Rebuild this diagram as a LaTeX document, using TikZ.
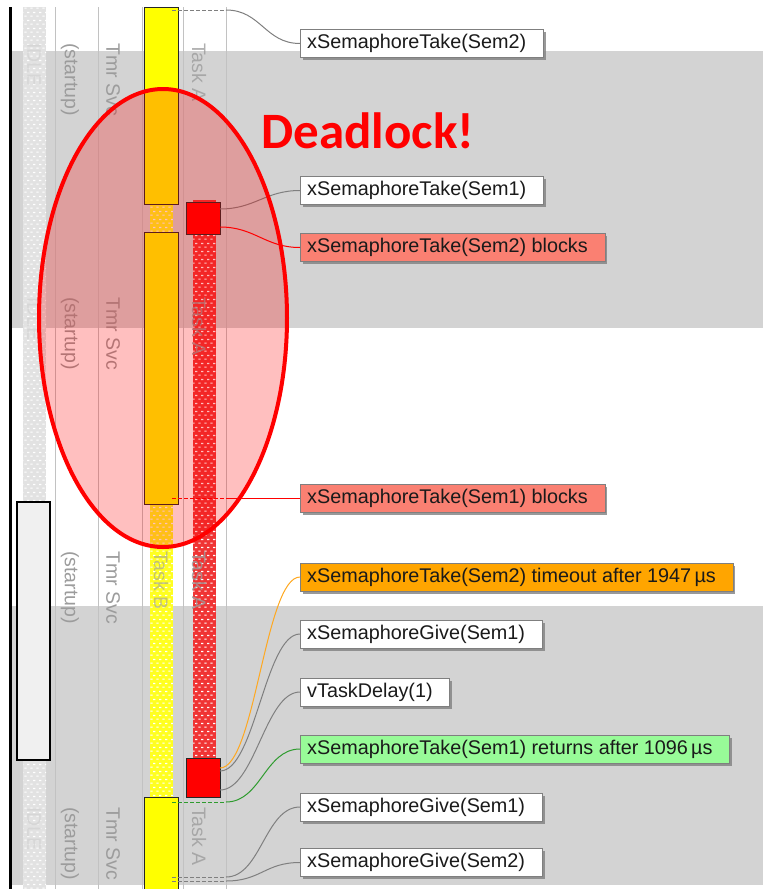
\documentclass[tikz,border=0pt]{standalone}
\usepackage{fontspec}
\setmainfont{Liberation Sans}
\newfontfamily\headfont{Carlito}
\usepackage{tikz}
\usetikzlibrary{patterns.meta,shadows}
\usepackage{xcolor}
\definecolor{TraceGray}{HTML}{D3D3D3}
\definecolor{TraceSep}{HTML}{C2C2C2}
\definecolor{TraceLabel}{HTML}{9C9C9C}
\definecolor{TraceIdle}{HTML}{E2E2E2}
\definecolor{TraceIdleLabel}{HTML}{D6D6D6}
\definecolor{TaskBYellow}{HTML}{FFFF00}
\definecolor{TaskBReady}{HTML}{FFFF20}
\definecolor{TaskARed}{HTML}{FF0000}
\definecolor{TaskAReady}{HTML}{F03434}
\definecolor{EvtSalmon}{HTML}{FA8072}
\definecolor{EvtOrange}{HTML}{FFA500}
\definecolor{EvtGreen}{HTML}{98FB98}
\definecolor{LinkGray}{HTML}{7F7F7F}
\definecolor{LinkOrange}{HTML}{FFA820}
\definecolor{LinkGreen}{HTML}{2E9B2E}
\definecolor{TextDark}{HTML}{1A1A1A}

\tikzdeclarepattern{
  name=tracedots,
  type=uncolored,
  bottom left={(0pt,0pt)},
  top right={(6pt,8pt)},
  tile size={(6pt,8pt)},
  code={
    \fill (0.5pt,1.5pt) rectangle (3pt,2.8pt);
    \fill (3.5pt,5.5pt) rectangle (6pt,6.8pt);
  }
}

\tikzset{
  evtbox/.style={draw=LinkGray, fill=white, anchor=west, inner xsep=7pt, inner ysep=0pt,
    minimum height=28pt, text=TextDark, font=\fontsize{19.8}{22}\selectfont,
    execute at end node={\hspace{10pt}},
    drop shadow={shadow xshift=2.5pt, shadow yshift=-2.5pt, fill=gray, opacity=0.8}},
  collabel/.style={rotate=-90, anchor=west, inner sep=0pt, text=TraceLabel,
    font=\fontsize{19.5}{22}\selectfont},
  conn/.style={draw=LinkGray, line width=1pt},
  dotdash/.style={dash pattern=on 4pt off 2pt},
  link/.style={to path={.. controls +(35,0) and +(-35,0) .. (\tikztotarget)}},
  runbar/.style={draw=black!85, line width=1pt},
  ready/.style={pattern=tracedots, pattern color=white}
}

\begin{document}
\begin{tikzpicture}[x=1pt,y=-1pt]
  \useasboundingbox (0,0) rectangle (763,889);
  % background bands
  \fill[TraceGray] (12,51) rectangle (763,328);
  \fill[TraceGray] (12,606) rectangle (763,885);
  \foreach \x in {55,98,142,183,226}
    \draw[TraceSep, line width=1pt] (\x,7) -- (\x,889);

  % ready states
  \fill[TraceIdle] (23,7) rectangle (46,889);
  \fill[ready] (23,7) rectangle (46,889);
  \fill[TaskBReady] (150,204) rectangle (173,797);
  \fill[ready] (150,204) rectangle (173,797);
  \fill[TaskAReady] (193,200) rectangle (216,758);
  \fill[ready] (193,200) rectangle (216,758);

  % column labels
  \foreach \y in {43,297,551,807} {
    \node[collabel, text=TraceIdleLabel] (idle\y) at (34,\y) {IDLE};
    \node[collabel] (startup\y) at (70,\y) {(startup)};
    \node[collabel] (tmr\y) at (113,\y) {Tmr Svc};
    \node[collabel, opacity=0.6] (taskb\y) at (161,\y) {Task B};
    \node[collabel, opacity=0.8] (taska\y) at (199,\y) {Task A};
  }

  % running states
  \filldraw[fill=gray!12, draw=black, line width=1.5pt] (17,502) rectangle (50,760);
  \draw[line width=3pt] (10.5,7) -- (10.5,889);
  \filldraw[runbar, fill=TaskBYellow] (144,7) rectangle (178,204);
  \filldraw[runbar, fill=TaskBYellow] (144,232) rectangle (178,504);
  \filldraw[runbar, fill=TaskBYellow] (144,797) rectangle (178,893);
  \filldraw[runbar, fill=TaskARed] (186,202) rectangle (220,234);
  \filldraw[runbar, fill=TaskARed] (186,758) rectangle (220,797);

  % event points
  \coordinate (tk2s) at (172,10);   \coordinate (tk2m) at (226,10);
  \coordinate (tk1s) at (220,209);
  \coordinate (tk2bs) at (220,227);
  \coordinate (tk1bs) at (172,498); \coordinate (tk1bm) at (226,498);
  \coordinate (tmos) at (220,768);
  \coordinate (gv1s) at (220,771);
  \coordinate (dls) at (220,790);
  \coordinate (rets) at (172,802);  \coordinate (retm) at (226,802);
  \coordinate (gv1bs) at (172,877); \coordinate (gv1bm) at (226,877);
  \coordinate (gv2s) at (172,881);  \coordinate (gv2m) at (226,881);

  % event labels
  \node[evtbox] (take2) at (300,43.5) {xSemaphoreTake(Sem2)};
  \node[evtbox] (take1) at (300,190.5) {xSemaphoreTake(Sem1)};
  \node[evtbox, fill=EvtSalmon] (take2blk) at (300,247.5) {xSemaphoreTake(Sem2) blocks};
  \node[evtbox, fill=EvtSalmon] (take1blk) at (300,498) {xSemaphoreTake(Sem1) blocks};
  \node[evtbox, fill=EvtOrange] (take2tmo) at (300,577) {xSemaphoreTake(Sem2) timeout after 1947\,µs};
  \node[evtbox] (give1) at (300,634) {xSemaphoreGive(Sem1)};
  \node[evtbox] (delay) at (300,692) {vTaskDelay(1)};
  \node[evtbox, fill=EvtGreen] (take1ret) at (300,749) {xSemaphoreTake(Sem1) returns after 1096\,µs};
  \node[evtbox] (give1b) at (300,807) {xSemaphoreGive(Sem1)};
  \node[evtbox] (give2) at (300,862.5) {xSemaphoreGive(Sem2)};

  % connectors
  \draw[conn, dotdash] (tk2s) -- (tk2m);
  \draw[conn] (tk2m) to[link] (take2.west);
  \draw[conn] (tk1s) to[link] (take1.west);
  \draw[conn, draw=red] (tk2bs) to[link] (take2blk.west);
  \draw[conn, draw=red, dotdash] (tk1bs) -- (tk1bm);
  \draw[conn, draw=red] (tk1bm) -- (take1blk.west);
  \draw[conn, draw=LinkOrange] (tmos) to[link] (take2tmo.west);
  \draw[conn] (gv1s) to[link] (give1.west);
  \draw[conn] (dls) to[link] (delay.west);
  \draw[conn, draw=LinkGreen, dotdash] (rets) -- (retm);
  \draw[conn, draw=LinkGreen] (retm) to[link] (take1ret.west);
  \draw[conn, dotdash] (gv1bs) -- (gv1bm);
  \draw[conn] (gv1bm) to[link] (give1b.west);
  \draw[conn, dotdash] (gv2s) -- (gv2m);
  \draw[conn] (gv2m) to[link] (give2.west);

  % deadlock marker
  \draw[red, line width=4pt, fill=red, fill opacity=0.25] (163,318) ellipse [x radius=124, y radius=229];
  \node[text=red, font=\headfont\bfseries\fontsize{51}{54}\selectfont] (deadlock) at (368,131) {Deadlock!};
\end{tikzpicture}
\end{document}
